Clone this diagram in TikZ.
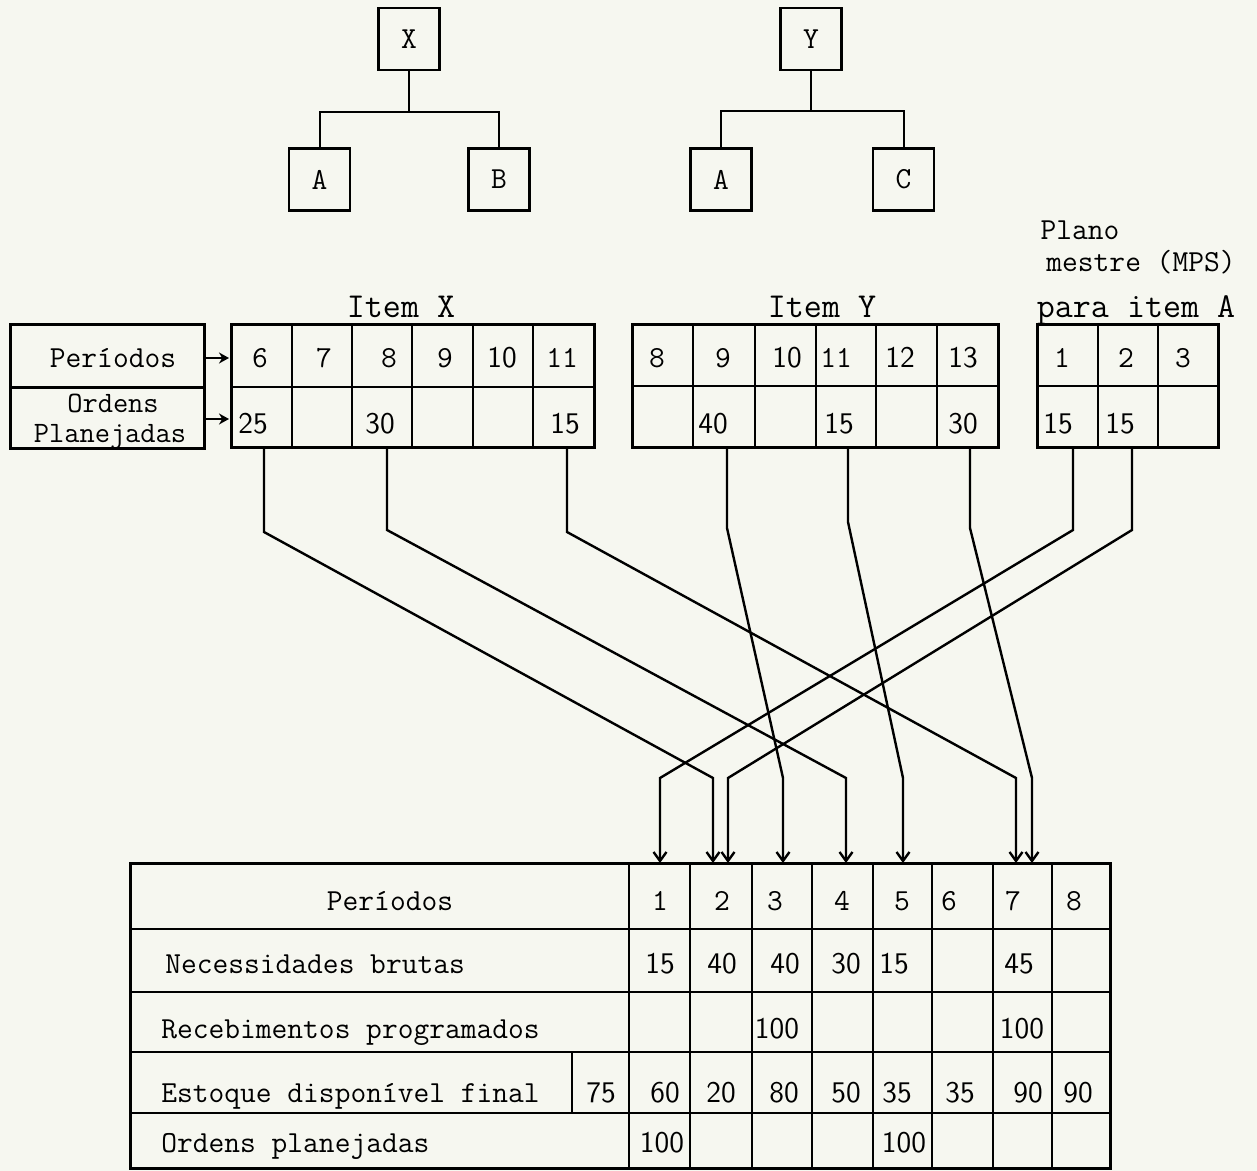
\documentclass[tikz,border=0pt]{standalone}
\usetikzlibrary{arrows.meta}
\definecolor{paper}{RGB}{246,247,240}

\begin{document}
\begin{tikzpicture}[x=0.5pt, y=-0.5pt,
  partbox/.style={draw, line width=1.4pt, minimum width=30.5pt, minimum height=31pt, inner sep=0pt, font=\fontsize{15.3}{17}\selectfont\ttfamily},
  labelbox/.style={draw, line width=1.5pt, minimum width=97pt, inner sep=0pt},
  lbl/.style={inner sep=0pt, anchor=base, font=\fontsize{15.3}{17}\selectfont\ttfamily},
  hd/.style={inner sep=0pt, anchor=base, font=\fontsize{17.5}{20}\selectfont\ttfamily},
  num/.style={inner sep=0pt, anchor=base, font=\fontsize{15}{17}\selectfont\sffamily},
  tabframe/.style={line width=1.5pt},
  tabrule/.style={line width=1pt},
  link/.style={line width=1pt},
  feed/.style={line width=1.2pt, -{Straight Barb[length=4.5pt, width=6.5pt, line width=1.2pt]}},
  lead/.style={line width=1.3pt, -{Stealth[length=5pt, width=5.5pt]}}]
\fill[paper] (0,0) rectangle (1257,1171);
\useasboundingbox (0,0) rectangle (1257,1171);

% product structures
\node[partbox] (x) at (409,39) {X};
\node[partbox] (xa) at (319.5,179.5) {A};
\node[partbox] (xb) at (499,179.5) {B};
\node[partbox] (y) at (811,39) {Y};
\node[partbox] (ya) at (721,179.5) {A};
\node[partbox] (yc) at (903.5,179.5) {C};
\draw[link] (x.south) -- ++(0,41) -| (xa.north);
\draw[link] (x.south) -- ++(0,41) -| (xb.north);
\draw[link] (y.south) -- ++(0,40) -| (ya.north);
\draw[link] (y.south) -- ++(0,40) -| (yc.north);

% headings
\node[hd] (hx) at (401,318) {Item X};
\node[hd] (hy) at (822,318) {Item Y};
\node[lbl] (hplano) at (1080,240) {Plano};
\node[lbl] (hmestre) at (1141,272) {mestre (MPS)};
\node[hd] (hpara) at (1136,318) {para item A};

% row labels
\node[labelbox, minimum height=31pt] (lper) at (107,356) {};
\node[labelbox, minimum height=30.5pt] (lord) at (107,417.5) {};
\node[lbl] (tper) at (113,368) {Per\'{\i}odos};
\node[lbl, font=\fontsize{14.8}{16}\selectfont\ttfamily] (tord) at (113,412) {Ordens};
\node[lbl, font=\fontsize{14.8}{16}\selectfont\ttfamily] (tplan) at (110,442) {Planejadas};
\coordinate (pin) at (229,358);
\coordinate (oin) at (229,419);
\draw[lead] (lper.east |- pin) -- (pin);
\draw[lead] (lord.east |- oin) -- (oin);

% item X
\draw[tabframe] (231,325) rectangle (594,447);
\draw[tabrule] (231,387) -- (594,387);
\draw[tabrule] (292,325) -- (292,447);
\draw[tabrule] (352,325) -- (352,447);
\draw[tabrule] (412,325) -- (412,447);
\draw[tabrule] (473,325) -- (473,447);
\draw[tabrule] (533,325) -- (533,447);
\node[lbl] (px6) at (260,368) {6};
\node[lbl] (px7) at (324,368) {7};
\node[lbl] (px8) at (389,368) {8};
\node[lbl] (px9) at (445,368) {9};
\node[num] (px10) at (502,368) {10};
\node[lbl] (px11) at (562,368) {11};
\node[num] (qx6) at (253,433) {25};
\node[num] (qx8) at (380,433) {30};
\node[num] (qx11) at (565,433) {15};

% item Y
\draw[tabframe] (632,325) rectangle (998,447);
\draw[tabrule] (632,386) -- (998,386);
\draw[tabrule] (693,325) -- (693,447);
\draw[tabrule] (755,325) -- (755,447);
\draw[tabrule] (816,325) -- (816,447);
\draw[tabrule] (876,325) -- (876,447);
\draw[tabrule] (937,325) -- (937,447);
\node[lbl] (py8) at (657,368) {8};
\node[lbl] (py9) at (723,368) {9};
\node[num] (py10) at (787,368) {10};
\node[lbl] (py11) at (836,368) {11};
\node[num] (py12) at (900,368) {12};
\node[num] (py13) at (963,368) {13};
\node[num] (qy9) at (713,433) {40};
\node[num] (qy11) at (839,433) {15};
\node[num] (qy13) at (963,433) {30};

% master schedule for A
\draw[tabframe] (1037,325) rectangle (1218,447);
\draw[tabrule] (1037,386) -- (1218,386);
\draw[tabrule] (1098,325) -- (1098,447);
\draw[tabrule] (1158,325) -- (1158,447);
\node[lbl] (pa1) at (1062,368) {1};
\node[lbl] (pa2) at (1126,368) {2};
\node[lbl] (pa3) at (1183,368) {3};
\node[num] (qa1) at (1058,433) {15};
\node[num] (qa2) at (1120,433) {15};

% record for item A
\draw[tabframe] (130,863) rectangle (1110,1168);
\draw[tabrule] (130,929) -- (1110,929);
\draw[tabrule] (130,992) -- (1110,992);
\draw[tabrule] (130,1052) -- (1110,1052);
\draw[tabrule] (130,1113) -- (1110,1113);
\draw[tabrule] (629,863) -- (629,1168);
\draw[tabrule] (690,863) -- (690,1168);
\draw[tabrule] (752,863) -- (752,1168);
\draw[tabrule] (812,863) -- (812,1168);
\draw[tabrule] (873,863) -- (873,1168);
\draw[tabrule] (932,863) -- (932,1168);
\draw[tabrule] (993,863) -- (993,1168);
\draw[tabrule] (1052,863) -- (1052,1168);
\draw[tabrule] (572,1052) -- (572,1113);

\node[lbl] (rper) at (390,910) {Per\'{\i}odos};
\node[lbl, anchor=base west] (rnec) at (165,973) {Necessidades brutas};
\node[lbl, anchor=base west] (rrec) at (161,1038) {Recebimentos programados};
\node[lbl, anchor=base west] (rest) at (161,1102) {Estoque dispon\'{\i}vel final};
\node[lbl, anchor=base west] (rord) at (161,1152) {Ordens planejadas};

\node[lbl] (p1) at (660,910) {1};
\node[lbl] (p2) at (722,910) {2};
\node[lbl] (p3) at (775,910) {3};
\node[lbl] (p4) at (842,910) {4};
\node[lbl] (p5) at (902,910) {5};
\node[lbl] (p6) at (949,910) {6};
\node[lbl] (p7) at (1013,910) {7};
\node[lbl] (p8) at (1074,910) {8};

\node[num] (n1) at (660,973) {15};
\node[num] (n2) at (722,973) {40};
\node[num] (n3) at (785,973) {40};
\node[num] (n4) at (846,973) {30};
\node[num] (n5) at (894,973) {15};
\node[num] (n7) at (1019,973) {45};

\node[num] (s3) at (777,1038) {100};
\node[num] (s7) at (1022,1038) {100};

\node[num] (e0) at (601,1102) {75};
\node[num] (e1) at (665,1102) {60};
\node[num] (e2) at (721,1102) {20};
\node[num] (e3) at (784,1102) {80};
\node[num] (e4) at (846,1102) {50};
\node[num] (e5) at (897,1102) {35};
\node[num] (e6) at (960,1102) {35};
\node[num] (e7) at (1028,1102) {90};
\node[num] (e8) at (1078,1102) {90};

\node[num] (o1) at (662,1152) {100};
\node[num] (o5) at (904,1152) {100};

% requirement feeds
\coordinate (ox6) at (264,447);
\coordinate (ox8) at (387,447);
\coordinate (ox11) at (567,447);
\coordinate (oy9) at (727,447);
\coordinate (oy11) at (848,447);
\coordinate (oy13) at (970,447);
\coordinate (ma1) at (1073,447);
\coordinate (ma2) at (1132,447);
\coordinate (gr1) at (660,863);
\coordinate (gr2a) at (713,863);
\coordinate (gr2b) at (728,863);
\coordinate (gr3) at (783,863);
\coordinate (gr4) at (846,863);
\coordinate (gr5) at (903,863);
\coordinate (gr7a) at (1016,863);
\coordinate (gr7b) at (1032,863);
\draw[feed] (ox6) -- (264,532) -- (713,778) -- (gr2a);
\draw[feed] (ox8) -- (387,530) -- (846,778) -- (gr4);
\draw[feed] (ox11) -- (567,532) -- (1016,778) -- (gr7a);
\draw[feed] (oy9) -- (727,528) -- (783,778) -- (gr3);
\draw[feed] (oy11) -- (848,522) -- (903,778) -- (gr5);
\draw[feed] (oy13) -- (970,528) -- (1032,778) -- (gr7b);
\draw[feed] (ma1) -- (1073,530) -- (660,778) -- (gr1);
\draw[feed] (ma2) -- (1132,530) -- (728,778) -- (gr2b);
\end{tikzpicture}
\end{document}
